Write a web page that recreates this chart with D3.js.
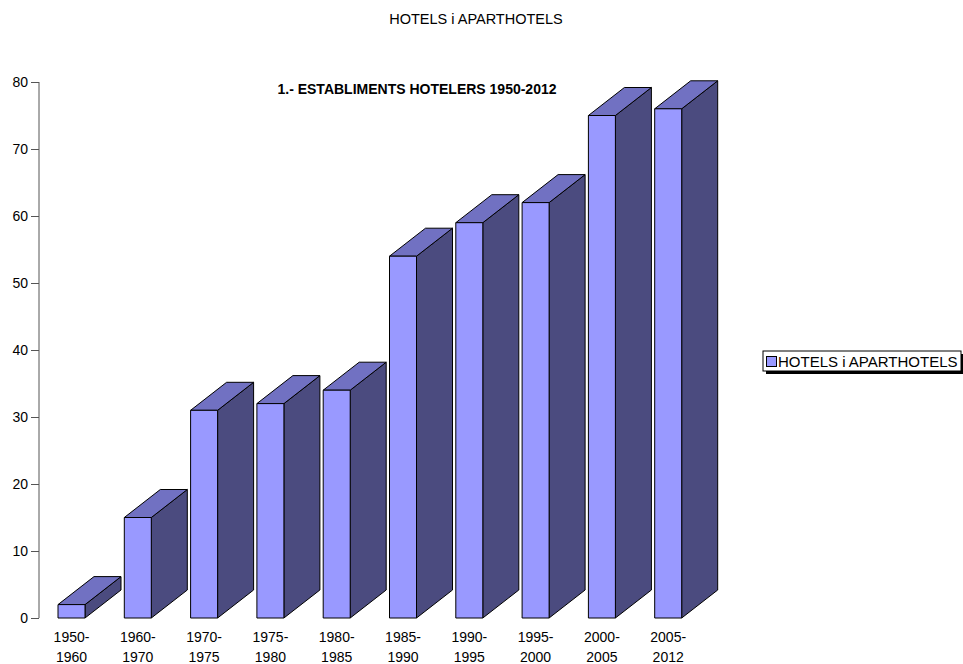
<!DOCTYPE html>
<html>
<head>
<meta charset="utf-8">
<script src="https://cdn.jsdelivr.net/npm/d3@7"></script>
<style>
  html, body { margin: 0; padding: 0; background: #fff; }
  svg { display: block; font-family: "Liberation Sans", Arial, sans-serif; }
</style>
</head>
<body>
<svg id="chart" width="963" height="664"></svg>
<script>
// Periods and number of hotel establishments opened in each
const periods = ["1950-1960", "1960-1970", "1970-1975", "1975-1980", "1980-1985",
                 "1985-1990", "1990-1995", "1995-2000", "2000-2005", "2005-2012"];
const establishments = [2, 15, 31, 32, 34, 54, 59, 62, 75, 76];
const yTicks = [0, 10, 20, 30, 40, 50, 60, 70, 80];
const seriesName = "HOTELS i APARTHOTELS";

const svg = d3.select("#chart");

const x = d3.scalePoint().domain(periods).range([71.5, 668.2]);
const y = d3.scaleLinear().domain([0, 80]).range([618, 82]);

const barW = 27, depthX = 36, depthY = 28;
const cFront = "#9999ff", cTop = "#7171c2", cSide = "#4b4b7f";

// Titles
svg.append("text").attr("x", 476).attr("y", 24).attr("text-anchor", "middle")
  .attr("font-size", 14.5).text(seriesName);
svg.append("text").attr("x", 417).attr("y", 94).attr("text-anchor", "middle")
  .attr("font-size", 14).attr("font-weight", "bold")
  .text("1.- ESTABLIMENTS HOTELERS 1950-2012");

// Y axis
const yAxis = d3.axisLeft(y).tickValues(yTicks).tickSize(8).tickPadding(3);
const gy = svg.append("g").attr("transform", "translate(39,0)").call(yAxis);
gy.select(".domain").attr("stroke", "#555").attr("d", `M0,${y(80)}V${y(0)}`);
gy.selectAll(".tick line").attr("stroke", "#555");
gy.selectAll(".tick text").attr("font-size", 14).attr("fill", "#000")
  .attr("font-family", "'Liberation Sans', Arial, sans-serif");

// 3D bars
const bars = svg.append("g");
periods.forEach((p, i) => {
  const v = establishments[i];
  const x0 = x(p) - barW / 2, x1 = x0 + barW;
  const yt = y(v), yb = y(0);
  const g = bars.append("g").attr("stroke", "#000").attr("stroke-width", 1)
    .attr("stroke-linejoin", "round");
  g.append("path").attr("fill", cSide)
    .attr("d", `M${x1},${yt}L${x1 + depthX},${yt - depthY}L${x1 + depthX},${yb - depthY}L${x1},${yb}Z`);
  g.append("path").attr("fill", cTop)
    .attr("d", `M${x0},${yt}L${x0 + depthX},${yt - depthY}L${x1 + depthX},${yt - depthY}L${x1},${yt}Z`);
  g.append("rect").attr("fill", cFront)
    .attr("x", x0).attr("y", yt).attr("width", barW).attr("height", yb - yt);
});

// X labels (two lines)
periods.forEach(p => {
  const [a, b] = p.split("-");
  const t = svg.append("text").attr("text-anchor", "middle").attr("font-size", 14)
    .attr("x", x(p)).attr("y", 642);
  t.append("tspan").attr("x", x(p)).text(a + "-");
  t.append("tspan").attr("x", x(p)).attr("dy", 20).text(b);
});

// Legend
const lg = svg.append("g").attr("transform", "translate(763,351)");
lg.append("rect").attr("x", 3).attr("y", 3).attr("width", 198).attr("height", 20).attr("fill", "#000");
lg.append("rect").attr("x", 0).attr("y", 0).attr("width", 198).attr("height", 20)
  .attr("fill", "#fff").attr("stroke", "#000");
lg.append("rect").attr("x", 3.5).attr("y", 5.5).attr("width", 10).attr("height", 10)
  .attr("fill", cFront).attr("stroke", "#000");
lg.append("text").attr("x", 15).attr("y", 15.5).attr("font-size", 15).text(seriesName);
</script>
</body>
</html>
